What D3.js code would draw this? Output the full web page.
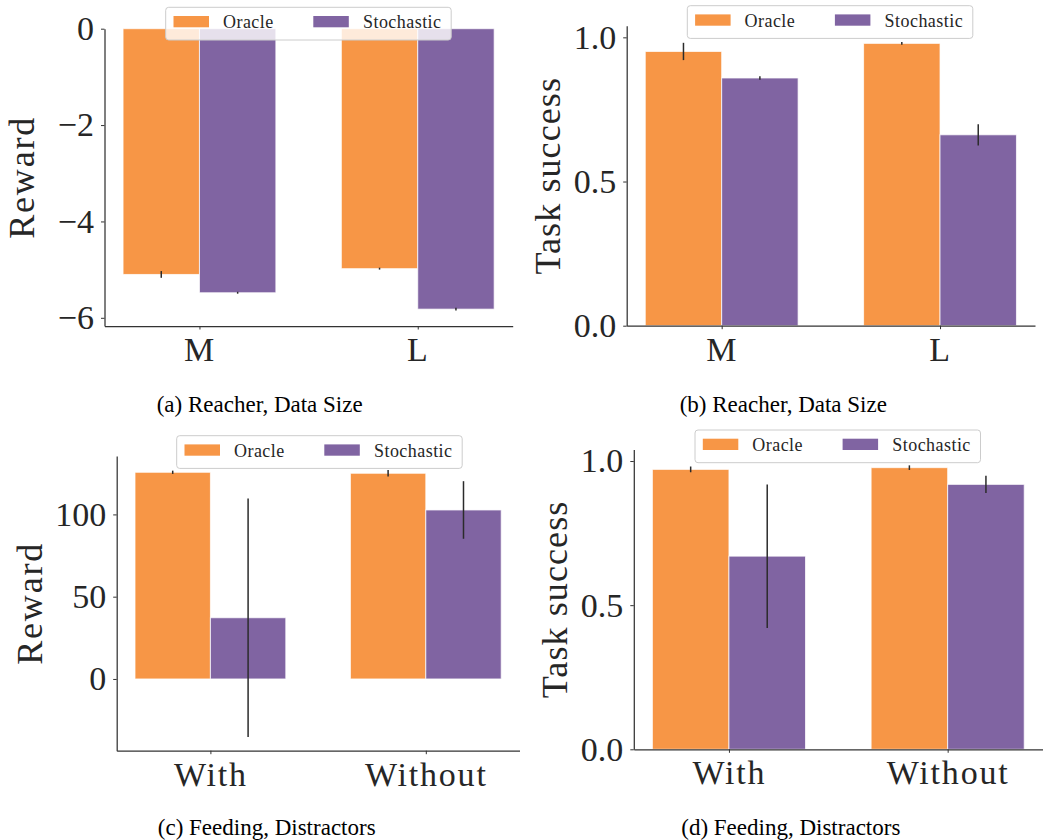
<!DOCTYPE html>
<html>
<head>
<meta charset="utf-8">
<script src="https://cdn.jsdelivr.net/npm/d3@7"></script>
<style>
  html, body { margin: 0; padding: 0; background: #fff; }
  svg { display: block; }
</style>
</head>
<body>
<svg id="chart" width="1043" height="840"></svg>
<script>
// ---------------- DATA ----------------
const seriesNames = ["Oracle", "Stochastic"];
const reacherCategories = ["M", "L"];
const feedingCategories = ["With", "Without"];

// (a) Reacher, Data Size — Reward
const reacherRewardOracle = [-5.10, -4.98];
const reacherRewardOracleErr = [0.07, 0.02];
const reacherRewardStoch = [-5.48, -5.82];
const reacherRewardStochErr = [0.02, 0.03];

// (b) Reacher, Data Size — Task success
const reacherSuccessOracle = [0.951, 0.979];
const reacherSuccessOracleErr = [0.03, 0.005];
const reacherSuccessStoch = [0.859, 0.662];
const reacherSuccessStochErr = [0.006, 0.037];

// (c) Feeding, Distractors — Reward
const feedingRewardOracle = [125.6, 125.0];
const feedingRewardOracleErr = [1.0, 2.0];
const feedingRewardStoch = [37.2, 102.7];
const feedingRewardStochErr = [72.5, 17.5];

// (d) Feeding, Distractors — Task success
const feedingSuccessOracle = [0.971, 0.977];
const feedingSuccessOracleErr = [0.01, 0.008];
const feedingSuccessStoch = [0.670, 0.919];
const feedingSuccessStochErr = [0.249, 0.03];

const rewardTicksReacher = [0, -2, -4, -6];
const rewardTicksFeeding = [0, 50, 100];
const successTicks = [0, 0.5, 1.0];

const captions = ["(a) Reacher, Data Size", "(b) Reacher, Data Size",
                  "(c) Feeding, Distractors", "(d) Feeding, Distractors"];

// ---------------- STYLE ----------------
const colors = ["#F79646", "#8064A2"];
const textColor = "#262626";
const axisColor = "#333333";
const serif = "'Liberation Serif', 'Times New Roman', serif";
const barWidth = 0.35;
const xlim = [-0.435, 1.435];

const panels = [
  { cats: reacherCategories, vals: [reacherRewardOracle, reacherRewardStoch],
    errs: [reacherRewardOracleErr, reacherRewardStochErr],
    ylim: [-6.17, 0], yticks: rewardTicksReacher, fmt: d => d < 0 ? "\u2212" + Math.abs(d) : String(d),
    left: 104.5, right: 512.7, top: 28.7, bottom: 326,
    ylabel: "Reward", ylabelX: 33.5, legendX: 165.7, legendY: 7.3,
    caption: captions[0], capX: 259.7, capY: 411.5 },
  { cats: reacherCategories, vals: [reacherSuccessOracle, reacherSuccessStoch],
    errs: [reacherSuccessOracleErr, reacherSuccessStochErr],
    ylim: [0, 1.04], yticks: successTicks, fmt: d3.format(".1f"),
    left: 626.7, right: 1035, top: 25.8, bottom: 325.7,
    ylabel: "Task success", ylabelX: 560, legendX: 687.3, legendY: 5.7,
    caption: captions[1], capX: 783.3, capY: 411.5 },
  { cats: feedingCategories, vals: [feedingRewardOracle, feedingRewardStoch],
    errs: [feedingRewardOracleErr, feedingRewardStochErr],
    ylim: [-43.6, 135.5], yticks: rewardTicksFeeding, fmt: d => String(d),
    left: 116.7, right: 519.5, top: 456, bottom: 750.7,
    ylabel: "Reward", ylabelX: 41.7, legendX: 176.7, legendY: 435.7,
    caption: captions[2], capX: 266.7, capY: 835 },
  { cats: feedingCategories, vals: [feedingSuccessOracle, feedingSuccessStoch],
    errs: [feedingSuccessOracleErr, feedingSuccessStochErr],
    ylim: [0, 1.04], yticks: successTicks, fmt: d3.format(".1f"),
    left: 633.8, right: 1042.8, top: 449.5, bottom: 749.3,
    ylabel: "Task success", ylabelX: 566.7, legendX: 695, legendY: 430,
    caption: captions[3], capX: 790.8, capY: 835 }
];

const svg = d3.select("#chart");

function drawPanel(p) {
  const g = svg.append("g");
  const x = d3.scaleLinear().domain(xlim).range([p.left, p.right]);
  const y = d3.scaleLinear().domain(p.ylim).range([p.bottom, p.top]);

  // bars
  const barData = [];
  p.vals.forEach((arr, si) => arr.forEach((v, ci) => {
    barData.push({ si, ci, v, e: p.errs[si][ci], x0: ci + (si - 1) * barWidth });
  }));
  g.append("g").selectAll("rect").data(barData).join("rect")
    .attr("x", d => x(d.x0))
    .attr("width", d => x(d.x0 + barWidth) - x(d.x0))
    .attr("y", d => y(Math.max(0, d.v)))
    .attr("height", d => Math.abs(y(d.v) - y(0)))
    .attr("fill", d => colors[d.si])
    .attr("stroke", "#ffffff")
    .attr("stroke-opacity", 0.75)
    .attr("stroke-width", 1);

  // error bars
  g.append("g").selectAll("line").data(barData).join("line")
    .attr("x1", d => x(d.x0 + barWidth / 2))
    .attr("x2", d => x(d.x0 + barWidth / 2))
    .attr("y1", d => y(d.v - d.e))
    .attr("y2", d => y(d.v + d.e))
    .attr("stroke", "#2b2b2b")
    .attr("stroke-width", 1.5);

  // axes
  const ya = g.append("g").attr("transform", `translate(${p.left},0)`)
    .call(d3.axisLeft(y).tickValues(p.yticks).tickFormat(p.fmt)
      .tickSize(3.5).tickSizeOuter(0).tickPadding(7));
  const xa = g.append("g").attr("transform", `translate(0,${p.bottom})`)
    .call(d3.axisBottom(x).tickValues(d3.range(p.cats.length)).tickFormat(i => p.cats[i])
      .tickSize(3.5).tickSizeOuter(0).tickPadding(7.4));
  [ya, xa].forEach(a => {
    a.select(".domain").attr("stroke", axisColor).attr("stroke-width", 1.25);
    a.selectAll(".tick line").attr("stroke", axisColor).attr("stroke-width", 1);
    a.selectAll(".tick text").attr("fill", textColor)
      .style("font-family", serif).style("font-size", "34px");
  });
  xa.selectAll(".tick text").style("letter-spacing", "1.8px");

  // y label
  g.append("text")
    .attr("transform", `translate(${p.ylabelX},${(p.top + p.bottom) / 2}) rotate(-90)`)
    .attr("text-anchor", "middle")
    .attr("fill", textColor)
    .style("font-family", serif).style("font-size", "36px")
    .style("letter-spacing", p.ylabel === "Reward" ? "1.8px" : "1.1px")
    .text(p.ylabel);

  // legend
  const lg = g.append("g").attr("transform", `translate(${p.legendX},${p.legendY})`);
  lg.append("rect").attr("width", 285.5).attr("height", 32.7).attr("rx", 3)
    .attr("fill", "#ffffff").attr("fill-opacity", 0.8)
    .attr("stroke", "#cccccc").attr("stroke-width", 1);
  const patchX = [7.8, 147.6], textX = [57.3, 197.3];
  seriesNames.forEach((s, i) => {
    lg.append("rect").attr("x", patchX[i]).attr("y", 8.7)
      .attr("width", 35.5).attr("height", 11.3).attr("fill", colors[i]);
    lg.append("text").attr("x", textX[i]).attr("y", 21)
      .attr("fill", textColor)
      .style("font-family", serif).style("font-size", "18px").style("letter-spacing", "0.45px")
      .text(s);
  });

  // caption
  g.append("text").attr("x", p.capX).attr("y", p.capY)
    .attr("text-anchor", "middle").attr("fill", "#000")
    .style("font-family", serif).style("font-size", "23px")
    .text(p.caption);
}

panels.forEach(drawPanel);
</script>
</body>
</html>
